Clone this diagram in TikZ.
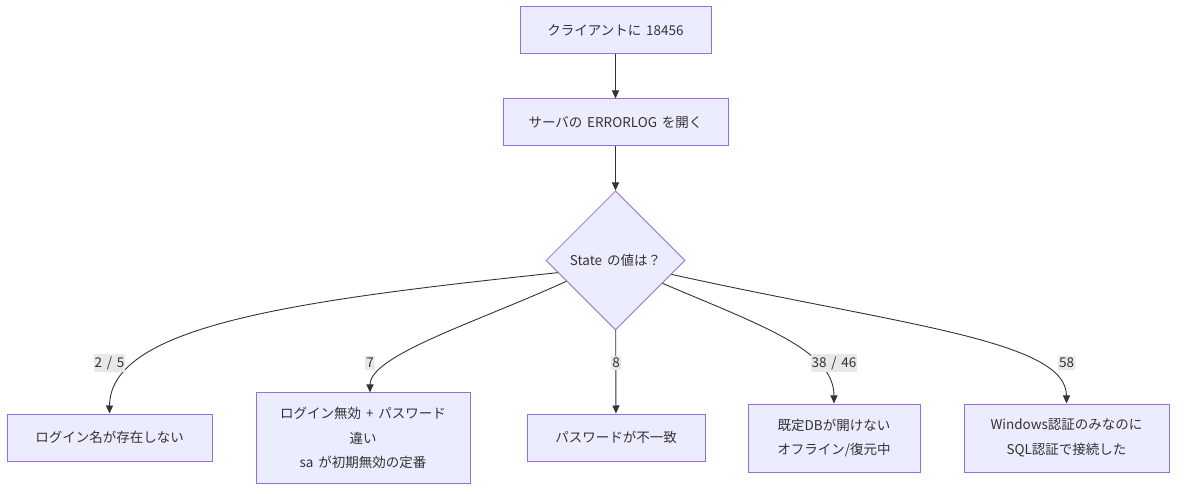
\documentclass[tikz,border=0pt]{standalone}
\usepackage{fontspec}
\setmainfont[WordSpace=1.6]{Noto Sans CJK JP}
\usepackage{tikz}
\usetikzlibrary{shapes.geometric, arrows.meta, positioning}
\definecolor{mmfill}{RGB}{236,236,255}
\definecolor{mmstroke}{RGB}{147,112,219}
\definecolor{mmline}{RGB}{51,51,51}
\definecolor{mmlabel}{RGB}{232,232,232}
\tikzset{
  box/.style={rectangle, draw=mmstroke, fill=mmfill, text=mmline,
    align=center, minimum height=47pt, inner xsep=4pt, inner ysep=4pt,
    font=\fontsize{13.5}{24.5}\selectfont, line width=1pt},
  decision/.style={diamond, draw=mmstroke, fill=mmfill, text=mmline,
    aspect=1, minimum size=139pt, inner sep=0pt,
    font=\fontsize{13.5}{24.5}\selectfont, line width=0.8pt},
  arrow/.style={-{Triangle[length=8pt, width=7pt]}, line width=0.9pt, color=mmline},
  elabel/.style={fill=mmlabel, text=mmline, inner xsep=1pt, inner ysep=2pt,
    font=\fontsize{13.5}{16}\selectfont}
}

\begin{document}
\begin{tikzpicture}[x=1pt, y=-1pt, node distance=44pt]
  \useasboundingbox (0,0) rectangle (1184,494);

  \node[box, minimum width=191pt] (client) at (615.5,30.5) {クライアントに 18456};
  \node[box, minimum width=225pt, below=of client] (errlog) {サーバの ERRORLOG を開く};
  \node[decision, below=of errlog] (state) {State の値は？};

  \node[box, minimum width=205pt] (nologin) at (109.5,437.5) {ログイン名が存在しない};
  \node[box, minimum width=214pt, minimum height=90pt] (disabled) at (363,438)
    {ログイン無効 + パスワード\\違い\\sa が初期無効の定番};
  \node[box, minimum width=178pt] (badpass) at (616,437.5) {パスワードが不一致};
  \node[box, minimum width=172pt, minimum height=68pt] (nodb) at (834,438)
    {既定DBが開けない\\オフライン/復元中};
  \node[box, minimum width=205pt, minimum height=68pt] (winonly) at (1066.5,438)
    {Windows認証のみなのに\\SQL認証で接続した};

  \draw[arrow] (client) -- (errlog);
  \draw[arrow] (errlog) -- (state);
  \draw[arrow] (state.192) .. controls (300,300) and (110,325) .. (nologin.north);
  \draw[arrow] (state.203) .. controls (480,321) and (370,355) .. ([xshift=7pt]disabled.north);
  \draw[arrow] (state) -- (badpass);
  \draw[arrow] (state.334) .. controls (760,325) and (834,350) .. (nodb.north);
  \draw[arrow] (state.346) .. controls (900,325) and (1066.5,340) .. (winonly.north);

  % edge labels
  \node[elabel] (l25) at (109.5,363) {2 / 5};
  \node[elabel] (l7) at (370,363) {7};
  \node[elabel] (l8) at (616,363) {8};
  \node[elabel] (l3846) at (834,363) {38 / 46};
  \node[elabel] (l58) at (1066.5,363) {58};
\end{tikzpicture}
\end{document}
